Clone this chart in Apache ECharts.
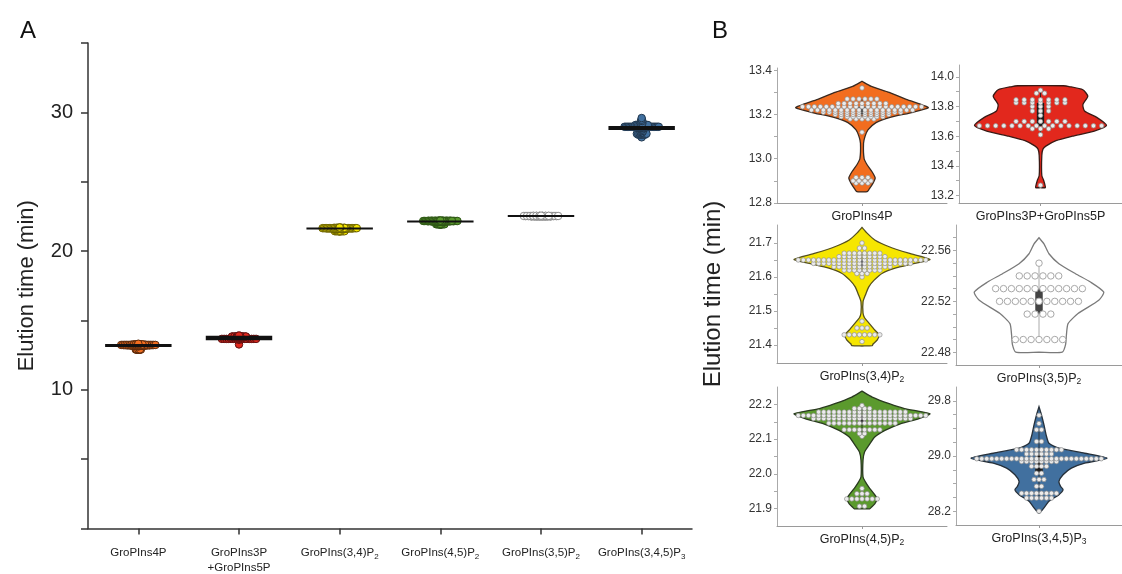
<!DOCTYPE html>
<html>
<head>
<meta charset="utf-8">
<script src="https://cdn.jsdelivr.net/npm/echarts@6/dist/echarts.min.js"></script>
<style>
  html, body { margin: 0; padding: 0; background: #fff; }
  #main { width: 1122px; height: 574px; }
</style>
</head>
<body>
<div id="main"></div>
<script>
// group names (subscript digit kept apart)
var names = ['GroPIns4P', 'GroPIns3P+GroPIns5P', 'GroPIns(3,4)P', 'GroPIns(4,5)P', 'GroPIns(3,5)P', 'GroPIns(3,4,5)P'];
var subs = ['', '', '2', '2', '2', '3'];

// elution times (min): distinct values and how many runs gave each
var valsP4 = [12.89, 12.90, 12.915, 13.12, 13.18, 13.19, 13.20, 13.21, 13.22, 13.235, 13.25, 13.27, 13.32];
var cntP4 = [3, 4, 3, 1, 5, 8, 10, 14, 18, 21, 9, 6, 1];
var valsP3P5 = [13.27, 13.61, 13.65, 13.67, 13.70, 13.74, 13.77, 13.80, 13.825, 13.845, 13.89, 13.91];
var cntP3P5 = [1, 1, 3, 16, 7, 1, 3, 3, 7, 7, 2, 1];
var valsP34 = [21.41, 21.43, 21.45, 21.47, 21.60, 21.61, 21.62, 21.63, 21.64, 21.65, 21.66, 21.67, 21.685, 21.70];
var cntP34 = [1, 8, 3, 1, 1, 3, 8, 12, 20, 26, 10, 8, 2, 1];
var valsP45 = [21.907, 21.928, 21.943, 21.958, 22.108, 22.116, 22.127, 22.146, 22.159, 22.168, 22.178, 22.188, 22.197];
var cntP45 = [2, 7, 3, 1, 1, 2, 8, 14, 20, 26, 18, 4, 1];
var valsP35 = [22.49, 22.51, 22.52, 22.53, 22.54, 22.55];
var cntP35 = [7, 4, 11, 12, 6, 1];
var valsP345 = [28.20, 28.39, 28.46, 28.56, 28.66, 28.75, 28.85, 28.92, 28.96, 29.03, 29.09, 29.21, 29.38, 29.47, 29.59];
var cntP345 = [1, 6, 8, 2, 3, 2, 4, 8, 26, 6, 10, 2, 2, 1, 1];

// violin outlines: [time, half width]
var shapeP4 = [[12.85, 0], [12.851, 0.06], [12.86, 0.08], [12.89, 0.13], [12.913, 0.155], [12.94, 0.12], [12.973, 0.06], [13.0, 0.025], [13.07, 0.018], [13.10, 0.035], [13.13, 0.07], [13.163, 0.165], [13.186, 0.32], [13.21, 0.6], [13.23, 0.78], [13.245, 0.7], [13.268, 0.52], [13.30, 0.32], [13.327, 0.11], [13.35, 0]];
var shapeP3P5 = [[13.253, 0], [13.254, 0.06], [13.27, 0.055], [13.30, 0.04], [13.335, 0.016], [13.47, 0.016], [13.513, 0.03], [13.535, 0.07], [13.57, 0.19], [13.60, 0.39], [13.635, 0.66], [13.673, 0.81], [13.727, 0.69], [13.77, 0.54], [13.813, 0.52], [13.87, 0.58], [13.913, 0.52], [13.935, 0.35], [13.94, 0.28], [13.941, 0]];
var shapeP34 = [[21.397, 0], [21.398, 0.12], [21.403, 0.13], [21.415, 0.18], [21.43, 0.2], [21.444, 0.15], [21.465, 0.08], [21.48, 0.03], [21.494, 0.012], [21.527, 0.012], [21.547, 0.04], [21.571, 0.08], [21.59, 0.14], [21.611, 0.24], [21.626, 0.39], [21.64, 0.62], [21.652, 0.8], [21.67, 0.55], [21.689, 0.32], [21.709, 0.15], [21.729, 0.06], [21.746, 0]];
var shapeP45 = [[21.899, 0], [21.8995, 0.09], [21.904, 0.11], [21.914, 0.15], [21.928, 0.18], [21.943, 0.14], [21.962, 0.08], [21.977, 0.04], [21.991, 0.012], [22.039, 0.012], [22.063, 0.03], [22.082, 0.08], [22.106, 0.15], [22.125, 0.27], [22.144, 0.45], [22.159, 0.67], [22.173, 0.8], [22.188, 0.5], [22.202, 0.32], [22.221, 0.12], [22.238, 0]];
var shapeP35 = [[22.48, 0], [22.4801, 0.28], [22.486, 0.32], [22.4934, 0.33], [22.5025, 0.35], [22.5104, 0.47], [22.5208, 0.72], [22.5273, 0.78], [22.5352, 0.62], [22.5417, 0.44], [22.5496, 0.24], [22.5574, 0.12], [22.5652, 0.06], [22.570, 0]];
var shapeP345 = [[28.17, 0], [28.176, 0.01], [28.248, 0.06], [28.344, 0.12], [28.44, 0.24], [28.513, 0.29], [28.56, 0.26], [28.633, 0.24], [28.729, 0.29], [28.824, 0.39], [28.896, 0.55], [28.968, 0.82], [29.04, 0.55], [29.113, 0.24], [29.185, 0.12], [29.305, 0.086], [29.45, 0.06], [29.594, 0.03], [29.714, 0]];

// tick labels of the small panels
var labB = [[12.8, 13.0, 13.2, 13.4], [13.2, 13.4, 13.6, 13.8, 14.0], [21.4, 21.5, 21.6, 21.7], [22.48, 22.52, 22.56], [21.9, 22.0, 22.1, 22.2], [28.2, 29.0, 29.8]];
var tickB = [
  [12.8, 12.9, 13.0, 13.1, 13.2, 13.3, 13.4],
  [13.2, 13.3, 13.4, 13.5, 13.6, 13.7, 13.8, 13.9, 14.0],
  [21.4, 21.45, 21.5, 21.55, 21.6, 21.65, 21.7],
  [22.48, 22.49, 22.5, 22.51, 22.52, 22.53, 22.54, 22.55, 22.56, 22.57],
  [21.9, 21.95, 22.0, 22.05, 22.1, 22.15, 22.2],
  [28.2, 28.4, 28.6, 28.8, 29.0, 29.2, 29.4, 29.6, 29.8]
];
var rangeB = [[12.8, 13.41], [13.15, 14.08], [21.347, 21.753], [22.47, 22.58], [21.85, 22.25], [28.0, 30.0]];
var decB = [1, 1, 1, 2, 1, 1];

// --- layout / style ---
var vals = [valsP4, valsP3P5, valsP34, valsP45, valsP35, valsP345];
var cnts = [cntP4, cntP3P5, cntP34, cntP45, cntP35, cntP345];
var shapes = [shapeP4, shapeP3P5, shapeP34, shapeP45, shapeP35, shapeP345];
// order of the small panels: 4P, 3P+5P, (3,4), (3,5), (4,5), (3,4,5)
var bOrder = [0, 1, 2, 4, 3, 5];
var bPos = [[777, 68, 135], [959, 65, 138], [777, 225, 138], [956, 225, 140], [777, 387, 139], [956, 387, 138]];
var fills = ['#f26d1f', '#e2281d', '#f6e600', '#5b9a2d', '#ffffff', '#41709f'];
var edges = ['#5a2a0c', '#5e1010', '#6b6200', '#2e5616', '#8a8a8a', '#22384f'];
var violinEdge = ['#3a2a20', '#3a1a15', '#555020', '#2a3a20', '#7a7a7a', '#26303a'];
var dotGap = [0.07, 0.1, 0.06, 0.06, 0.095, 0.06];
var meanW = [3, 4.5, 2, 2, 2, 4];
var txt = '#222';
var ff = '"Liberation Sans", Arial, sans-serif';

function swarm(v, c, sp) {
  var pts = [];
  v.forEach(function (y, i) {
    for (var k = 0; k < c[i]; k++) pts.push([(k - (c[i] - 1) / 2) * sp, y]);
  });
  return pts;
}
function quant(s, q) {
  var p = (s.length - 1) * q, lo = Math.floor(p), hi = Math.ceil(p);
  return s[lo] + (s[hi] - s[lo]) * (p - lo);
}
function labelText(i, twoLines) {
  var n = twoLines ? names[i].replace('+', '\n+') : names[i];
  return n.split('\n').map(function (l) { return '{n|' + l + '}'; }).join('\n') + (subs[i] ? '{s|' + subs[i] + '}' : '');
}

var grids = [{ left: 88, top: 43, width: 604, height: 486 }];
bPos.forEach(function (p) { grids.push({ left: p[0], top: p[1], width: 170, height: p[2] }); });

var xAxes = [{
  gridIndex: 0, type: 'value', min: -0.5, max: 5.5,
  axisLine: { show: true, onZero: false, lineStyle: { color: '#333', width: 1.5 } },
  axisTick: { show: true, customValues: [0, 1, 2, 3, 4, 5], length: 6, lineStyle: { color: '#333', width: 1.5 } },
  axisLabel: {
    customValues: [0, 1, 2, 3, 4, 5], margin: 17,
    formatter: function (v) { return labelText(Math.round(v), true); },
    rich: {
      n: { fontSize: 11.5, color: txt, fontFamily: ff, lineHeight: 15 },
      s: { fontSize: 8, color: txt, fontFamily: ff, lineHeight: 8, verticalAlign: 'bottom' }
    }
  },
  splitLine: { show: false }
}];
var yAxes = [{
  gridIndex: 0, type: 'value', min: 0, max: 35, interval: 5,
  name: 'Elution time (min)', nameLocation: 'middle', nameGap: 50,
  nameTextStyle: { fontSize: 22, color: txt, fontFamily: ff },
  axisLine: { show: true, onZero: false, lineStyle: { color: '#333', width: 1.5 } },
  axisTick: { show: true, length: 7, lineStyle: { color: '#333', width: 1.5 } },
  axisLabel: { customValues: [10, 20, 30], fontSize: 20, color: txt, fontFamily: ff, margin: 15 },
  splitLine: { show: false }
}];

var series = [];

// panel A: every run as a dot, squeezed into a narrow band round its group
for (var g = 0; g < 6; g++) {
  var pts = swarm(vals[g], cnts[g], 1);
  var mx = Math.max.apply(null, pts.map(function (p) { return Math.abs(p[0]); })) || 1;
  var sc = 0.17 / mx;
  series.push({
    type: 'scatter', xAxisIndex: 0, yAxisIndex: 0, z: 3, silent: true,
    symbolSize: 7.5,
    itemStyle: { color: fills[g], borderColor: edges[g], borderWidth: 1, opacity: 1 },
    data: pts.map(function (p) { return [g + p[0] * sc, p[1]]; })
  });
}
var means = vals.map(function (v, g) {
  var s = 0, n = 0;
  v.forEach(function (y, i) { s += y * cnts[g][i]; n += cnts[g][i]; });
  return [g, s / n];
});
series.push({
  type: 'custom', xAxisIndex: 0, yAxisIndex: 0, z: 4, silent: true,
  data: means, encode: { x: 0, y: 1 },
  renderItem: function (params, api) {
    var i = api.value(0), m = api.value(1);
    var a = api.coord([i - 0.33, m]), b = api.coord([i + 0.33, m]);
    return { type: 'line', shape: { x1: a[0], y1: a[1], x2: b[0], y2: b[1] }, style: { stroke: '#111', lineWidth: meanW[i] } };
  }
});

// panel B: one violin per group
bOrder.forEach(function (g, k) {
  var ax = k + 1;
  xAxes.push({
    gridIndex: ax, type: 'value', min: -1, max: 1,
    axisLine: { show: true, onZero: false, lineStyle: { color: '#9a9a9a' } },
    axisTick: { show: true, customValues: [0], length: 3, lineStyle: { color: '#9a9a9a' } },
    axisLabel: {
      customValues: [0], margin: 6,
      formatter: (function (gi) { return function () { return labelText(gi, false); }; })(g),
      rich: {
        n: { fontSize: 12.5, color: txt, fontFamily: ff, lineHeight: 15 },
        s: { fontSize: 8.5, color: txt, fontFamily: ff, lineHeight: 8, verticalAlign: 'bottom' }
      }
    },
    splitLine: { show: false }
  });
  var ya = {
    gridIndex: ax, type: 'value', min: rangeB[k][0], max: rangeB[k][1],
    axisLine: { show: true, onZero: false, lineStyle: { color: '#aaa' } },
    axisTick: { show: true, customValues: tickB[k], length: 3, lineStyle: { color: '#aaa' } },
    axisLabel: {
      customValues: labB[k], fontSize: 12, color: '#333', fontFamily: ff, margin: 5,
      formatter: (function (d) { return function (v) { return v.toFixed(d); }; })(decB[k])
    },
    splitLine: { show: false }
  };
  if (k === 2) {
    ya.name = 'Elution time (min)';
    ya.nameLocation = 'middle';
    ya.nameGap = 52;
    ya.nameTextStyle = { fontSize: 24, color: txt, fontFamily: ff };
  }
  yAxes.push(ya);

  var shape = shapes[g];
  series.push({
    type: 'custom', xAxisIndex: ax, yAxisIndex: ax, z: 2, silent: true,
    data: [[0, shape[0][0]]], encode: { x: 0, y: 1 },
    renderItem: function (params, api) {
      var right = shape.map(function (p) { return api.coord([p[1], p[0]]); });
      var left = shape.slice().reverse().map(function (p) { return api.coord([-p[1], p[0]]); });
      return {
        type: 'polygon', shape: { points: right.concat(left), smooth: 0.2 },
        style: { fill: fills[g], stroke: violinEdge[g], lineWidth: 1.3 }
      };
    }
  });

  // inner box: quartiles and Tukey whiskers from the runs
  var flat = [];
  vals[g].forEach(function (y, i) { for (var c = 0; c < cnts[g][i]; c++) flat.push(y); });
  flat.sort(function (a, b) { return a - b; });
  var q1 = quant(flat, 0.25), q3 = quant(flat, 0.75), iqr = q3 - q1;
  var wLo = flat.filter(function (y) { return y >= q1 - 1.5 * iqr; })[0];
  var wHi = flat.filter(function (y) { return y <= q3 + 1.5 * iqr; }).pop();
  series.push({
    type: 'custom', xAxisIndex: ax, yAxisIndex: ax, z: 3, silent: true,
    data: [[0, q1, q3, wLo, wHi]], encode: { x: 0, y: [1, 2] },
    renderItem: function (params, api) {
      var a = api.coord([0, api.value(4)]), b = api.coord([0, api.value(3)]);
      var c1 = api.coord([-0.045, api.value(2)]), c2 = api.coord([0.045, api.value(1)]);
      return {
        type: 'group', children: [
          { type: 'line', shape: { x1: a[0], y1: a[1], x2: b[0], y2: b[1] }, style: { stroke: g === 4 ? '#aaa' : violinEdge[g], lineWidth: 1 } },
          { type: 'rect', shape: { x: c1[0], y: c1[1], width: c2[0] - c1[0], height: Math.max(c2[1] - c1[1], 2) }, style: { fill: g === 4 ? '#444' : '#1a1a1a' } }
        ]
      };
    }
  });

  series.push({
    type: 'scatter', xAxisIndex: ax, yAxisIndex: ax, z: 4, silent: true,
    symbolSize: g === 4 ? 6.5 : 4.5,
    itemStyle: g === 4 ? { color: '#fff', borderColor: '#a8a8a8', borderWidth: 1, opacity: 1 }
                       : { color: '#ececec', borderColor: '#8f8f8f', borderWidth: 0.7, opacity: 1 },
    data: swarm(vals[g], cnts[g], dotGap[g])
  });
});

var chart = echarts.init(document.getElementById('main'));
chart.setOption({
  backgroundColor: '#fff',
  animation: false,
  grid: grids,
  xAxis: xAxes,
  yAxis: yAxes,
  series: series,
  graphic: [
    { type: 'text', left: 20, top: 19, style: { text: 'A', fontSize: 24, fill: '#111', fontFamily: ff } },
    { type: 'text', left: 712, top: 19, style: { text: 'B', fontSize: 24, fill: '#111', fontFamily: ff } }
  ]
});
</script>
</body>
</html>
